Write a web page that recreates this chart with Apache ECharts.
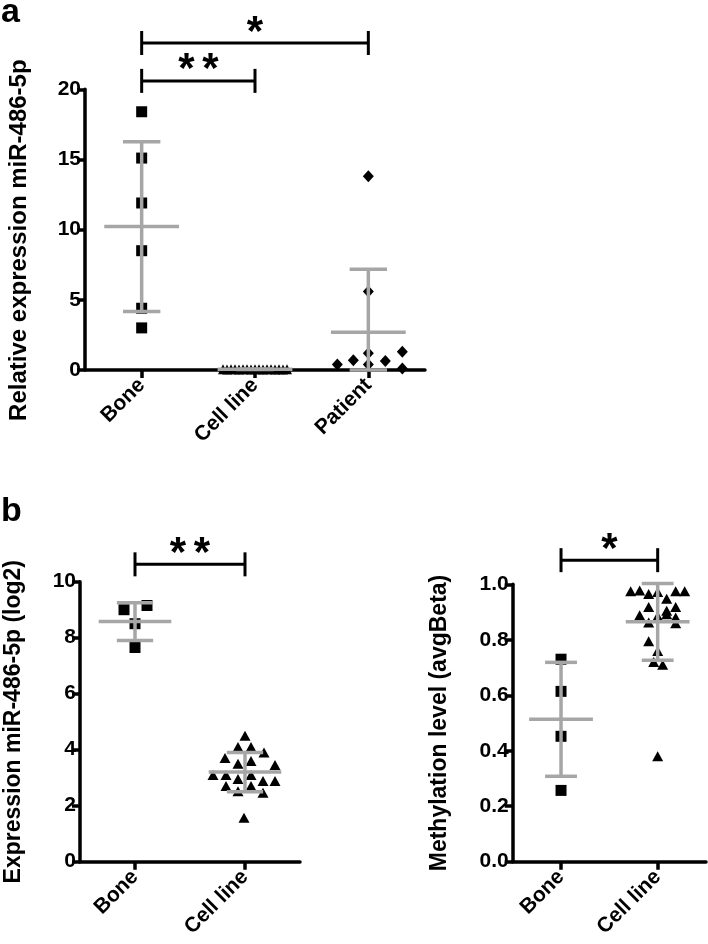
<!DOCTYPE html>
<html><head><meta charset="utf-8">
<script src="https://cdn.jsdelivr.net/npm/echarts@6/dist/echarts.min.js"></script>
<style>html,body{margin:0;padding:0;background:#fff}#c{width:708px;height:944px}</style>
</head><body><div id="c"></div>
<script>
// ---------- data ----------
const categoriesA = ['Bone', 'Cell line', 'Patient'];
const boneA = [18.4, 15.1, 11.9, 8.5, 4.4, 3.0];
const cellLineA = [0.05, 0.04, 0.06, 0.05, 0.03, 0.05, 0.06, 0.04, 0.05, 0.05, 0.04, 0.06, 0.05, 0.03, 0.05, 0.04, 0.05];
const patientA = [13.8, 5.6, 1.2, 0.4, 0.4, 0.7, 0.65, 1.3, 0.1];
const yTicksA = [0, 5, 10, 15, 20];
const sigPairsA = [[0, 1, 20.6], [0, 2, 23.3]];
const sigLabelsA = ['**', '*'];

const categoriesB = ['Bone', 'Cell line'];
const boneExprB = [9.0, 9.15, 8.5, 7.65];
const cellExprB = [4.5, 4.1, 4.1, 3.9, 3.7, 3.5, 3.6, 3.45, 3.1, 3.1, 2.95, 3.1, 2.88, 2.88, 2.7, 2.7, 2.52, 2.46, 1.57];
const yTicksBL = [0, 2, 4, 6, 8, 10];
const sigPairsBL = [[0, 1, 10.62]];
const sigLabelsBL = ['**'];

const boneMethB = [0.73, 0.614, 0.452, 0.257];
const cellMethB = [0.975, 0.978, 0.965, 0.972, 0.948, 0.975, 0.975, 0.918, 0.905, 0.918, 0.888, 0.885, 0.892, 0.88, 0.862, 0.86, 0.795, 0.76, 0.72, 0.71, 0.38];
const yTicksBR = [0, 0.2, 0.4, 0.6, 0.8, 1.0];
const sigPairsBR = [[0, 1, 1.087]];
const sigLabelsBR = ['*'];

// ---------- layout / style (px) ----------
const jitter = {
  boneA: [0, 0, 0, 0, 0, 0],
  cellA: [-32, -28, -24, -20, -16, -12, -8, -4, 0, 4, 8, 12, 16, 20, 24, 28, 32],
  patientA: [0, 0, 0, -31, 0, -15, 17, 34, 34],
  boneExprB: [-11, 12, 0, 0],
  cellExprB: [0, -7, 6, 19, -20, -7, 6, 30, -32, -19, -7, 6, 18, 30, -19, 6, -7, 18, -1],
  boneMethB: [0, 0, 0, 0],
  cellMethB: [-27, -18, -9, 0, 9, 18, 27, -9, 9, 18, -18, 0, 9, 18, -9, 18, -9, 0, -4, 5, 0]
};
const FONT = 'Liberation Sans, Arial, Helvetica, sans-serif';
const GREY = '#a6a6a6';
const AXW = 3.5;

function stats(arr) {
  const n = arr.length;
  const m = arr.reduce((a, b) => a + b, 0) / n;
  const sd = Math.sqrt(arr.reduce((a, b) => a + (b - m) * (b - m), 0) / (n - 1));
  return [m, sd];
}

function scatter(idx, cat, values, offs, symbol, size) {
  return {
    type: 'scatter', xAxisIndex: idx, yAxisIndex: idx, z: 2,
    symbol: symbol, symbolSize: size,
    itemStyle: { color: '#000', opacity: 1 },
    silent: true,
    data: values.map((v, i) => ({ value: [cat, v], symbolOffset: [offs[i], 0] }))
  };
}

function errorBars(idx, groups, yMin) {
  return {
    type: 'custom', xAxisIndex: idx, yAxisIndex: idx, z: 5, silent: true,
    data: groups.map((g, i) => { const s = stats(g); return [i, s[0], s[1]]; }),
    renderItem: function (params, api) {
      const cat = api.value(0), m = api.value(1), sd = api.value(2);
      const bw = api.size([1, 0])[0];
      const c = api.coord([cat, m]);
      const hi = api.coord([cat, m + sd]);
      const lo = api.coord([cat, Math.max(m - sd, yMin)]);
      const wm = bw * 0.33, wc = bw * 0.165;
      const st = { stroke: GREY, lineWidth: 3.5 };
      return {
        type: 'group', children: [
          { type: 'line', shape: { x1: c[0], y1: hi[1], x2: c[0], y2: lo[1] }, style: st },
          { type: 'line', shape: { x1: c[0] - wm, y1: c[1], x2: c[0] + wm, y2: c[1] }, style: st },
          { type: 'line', shape: { x1: c[0] - wc, y1: hi[1], x2: c[0] + wc, y2: hi[1] }, style: st },
          { type: 'line', shape: { x1: c[0] - wc, y1: lo[1], x2: c[0] + wc, y2: lo[1] }, style: st }
        ]
      };
    }
  };
}

function brackets(idx, pairs, labels) {
  return {
    type: 'custom', xAxisIndex: idx, yAxisIndex: idx, z: 6, silent: true, clip: false,
    data: pairs,
    renderItem: function (params, api) {
      const a = api.coord([api.value(0), api.value(2)]);
      const b = api.coord([api.value(1), api.value(2)]);
      const st = { stroke: '#000', lineWidth: 3 };
      const lab = labels[params.dataIndex];
      const cx = (a[0] + b[0]) / 2;
      const children = [
        { type: 'line', shape: { x1: a[0], y1: a[1], x2: b[0], y2: b[1] }, style: st },
        { type: 'line', shape: { x1: a[0], y1: a[1] - 12, x2: a[0], y2: a[1] + 12 }, style: st },
        { type: 'line', shape: { x1: b[0], y1: b[1] - 12, x2: b[0], y2: b[1] + 12 }, style: st }
      ];
      const n = lab.length, gap = 24;
      for (let k = 0; k < n; k++) {
        children.push({
          type: 'text',
          x: cx + (k - (n - 1) / 2) * gap, y: a[1] - 10,
          style: { text: lab[k], font: 'bold 42px ' + FONT, fill: '#000', align: 'center', verticalAlign: 'middle' }
        });
      }
      return { type: 'group', children: children };
    }
  };
}

function yAxis(idx, ticks, name, gap, size, pad, fmt) {
  return {
    gridIndex: idx, type: 'value',
    min: ticks[0], max: ticks[ticks.length - 1], interval: ticks[1] - ticks[0],
    name: name, nameLocation: 'middle', nameGap: gap, nameRotate: 90,
    nameTextStyle: { fontFamily: FONT, fontWeight: 'bold', fontSize: size, color: '#000', padding: pad },
    axisLine: { show: true, lineStyle: { color: '#000', width: AXW } },
    axisTick: { show: true, length: 8, lineStyle: { color: '#000', width: AXW } },
    axisLabel: { fontFamily: FONT, fontWeight: 'bold', fontSize: 21, color: '#000', margin: 4, formatter: fmt },
    splitLine: { show: false }
  };
}

function xAxis(idx, cats) {
  return {
    gridIndex: idx, type: 'category', data: cats, boundaryGap: true,
    axisLine: { show: true, lineStyle: { color: '#000', width: AXW } },
    axisTick: { show: true, alignWithLabel: true, length: 8, lineStyle: { color: '#000', width: AXW } },
    axisLabel: { fontFamily: FONT, fontWeight: 'bold', fontSize: 21, color: '#000', rotate: 45, margin: 12, interval: 0 },
    splitLine: { show: false }
  };
}

const chart = echarts.init(document.getElementById('c'), null, { renderer: 'canvas' });
chart.setOption({
  animation: false,
  backgroundColor: '#fff',
  grid: [
    { left: 85, top: 89.3, width: 340, height: 280.7 },
    { left: 80, top: 581.7, width: 220, height: 280 },
    { left: 512.7, top: 584.3, width: 193.3, height: 277.4 }
  ],
  xAxis: [xAxis(0, categoriesA), xAxis(1, categoriesB), xAxis(2, categoriesB)],
  yAxis: [
    yAxis(0, yTicksA, 'Relative expression miR-486-5p', 54, 24, [0, 21, 0, 0]),
    yAxis(1, yTicksBL, 'Expression miR-486-5p (log2)', 55, 23, 0),
    yAxis(2, yTicksBR, 'Methylation level (avgBeta)', 62, 23, 0, v => v.toFixed(1))
  ],
  graphic: [
    { type: 'text', left: 1, top: -4, style: { text: 'a', font: 'bold 34px ' + FONT, fill: '#000' } },
    { type: 'text', left: 1, top: 495, style: { text: 'b', font: 'bold 34px ' + FONT, fill: '#000' } }
  ],
  series: [
    scatter(0, 0, boneA, jitter.boneA, 'rect', 11),
    scatter(0, 1, cellLineA, jitter.cellA, 'triangle', [10, 10]),
    scatter(0, 2, patientA, jitter.patientA, 'diamond', [11, 12]),
    errorBars(0, [boneA, cellLineA, patientA], 0),
    brackets(0, sigPairsA, sigLabelsA),

    scatter(1, 0, boneExprB, jitter.boneExprB, 'rect', 11),
    scatter(1, 1, cellExprB, jitter.cellExprB, 'triangle', [11, 10]),
    errorBars(1, [boneExprB, cellExprB], 0),
    brackets(1, sigPairsBL, sigLabelsBL),

    scatter(2, 0, boneMethB, jitter.boneMethB, 'rect', 11),
    scatter(2, 1, cellMethB, jitter.cellMethB, 'triangle', [11, 10]),
    errorBars(2, [boneMethB, cellMethB], 0),
    brackets(2, sigPairsBR, sigLabelsBR)
  ]
});
</script>
</body></html>
